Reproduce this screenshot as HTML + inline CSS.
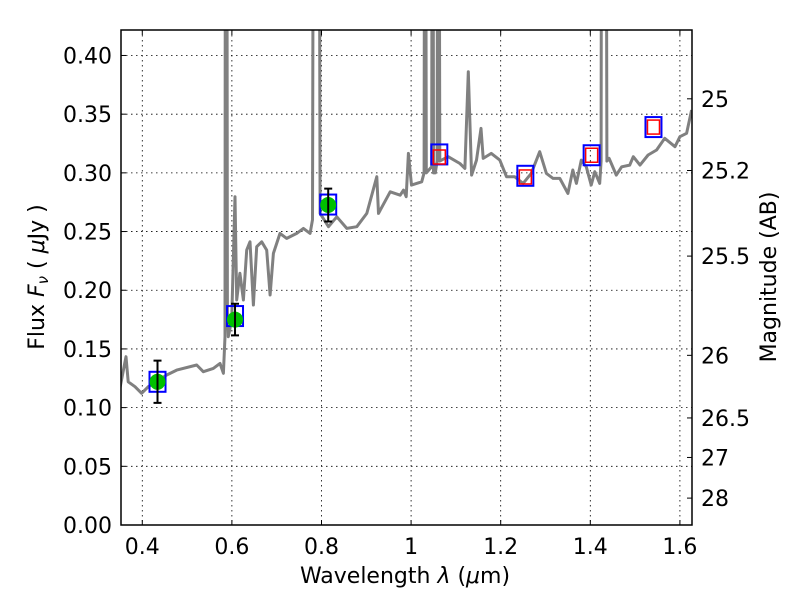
<!DOCTYPE html>
<html><head><meta charset="utf-8"><style>
body{margin:0;background:#fff}
svg{display:block;font-family:"DejaVu Sans","Liberation Sans",sans-serif}
</style></head><body>
<svg id="chart" width="800" height="600">
<rect width="800" height="600" fill="#fff"/>
<defs><clipPath id="plotclip"><rect x="121" y="30" width="571" height="495"/></clipPath></defs>
<g id="grid"></g>
<g id="series" clip-path="url(#plotclip)"></g>
<rect x="121" y="30" width="571" height="495" fill="none" stroke="#000" stroke-width="1.5"/>
<g id="axes"></g>
<text x="405" y="583" font-size="22" text-anchor="middle">Wavelength  <tspan font-style="italic">λ</tspan> (<tspan font-style="italic">μ</tspan>m)</text>
<text transform="translate(44,277) rotate(-90)" font-size="22" text-anchor="middle">Flux  <tspan font-style="italic">F</tspan><tspan font-style="italic" font-size="15" dy="4">ν</tspan><tspan dy="-4">  (  </tspan><tspan font-style="italic">μ</tspan>Jy )</text>
<text transform="translate(776,277) rotate(-90)" font-size="22" text-anchor="middle">Magnitude (AB)</text>
</svg>
<script>
const xTicks=[0.4,0.6,0.8,1.0,1.2,1.4,1.6];
const xTickLabels=["0.4","0.6","0.8","1","1.2","1.4","1.6"];
const yTicks=[0,0.05,0.1,0.15,0.2,0.25,0.3,0.35,0.4];
const yTickLabels=["0.00","0.05","0.10","0.15","0.20","0.25","0.30","0.35","0.40"];
const magTicks=[25,25.2,25.5,26,26.5,27,28];
const magTickLabels=["25","25.2","25.5","26","26.5","27","28"];
const specWave=[0.350,0.3636,0.3686,0.3837,0.3985,0.4134,0.4544,0.4768,0.5214,0.5363,0.5586,0.5735,0.581,0.5847,0.586,0.588,0.590,0.5921,0.5996,0.6069,0.6107,0.618,0.6256,0.633,0.6405,0.648,0.6554,0.6666,0.6777,0.6852,0.6926,0.7075,0.7224,0.7447,0.7596,0.7745,0.7800,0.7834,0.7880,0.7931,0.797,0.8156,0.8342,0.8565,0.8789,0.9012,0.9235,0.9272,0.9533,0.9756,0.983,0.989,0.994,1.001,1.0237,1.029,1.031,1.034,1.046,1.048,1.050,1.054,1.058,1.061,1.064,1.068,1.0829,1.109,1.12,1.1277,1.135,1.146,1.156,1.161,1.179,1.198,1.213,1.231,1.25,1.268,1.287,1.302,1.317,1.332,1.35,1.361,1.369,1.38,1.391,1.402,1.41,1.421,1.424,1.426,1.434,1.437,1.442,1.458,1.47,1.488,1.496,1.511,1.529,1.548,1.566,1.589,1.6,1.615,1.626];
const specFlux=[0.1164,0.1434,0.122,0.1178,0.1122,0.1178,0.1278,0.132,0.1363,0.1306,0.1334,0.1377,0.1292,0.1604,0.9,0.9,0.18,0.1604,0.1746,0.2797,0.1917,0.2144,0.1917,0.2342,0.2413,0.1874,0.2371,0.2413,0.2342,0.1959,0.2314,0.2484,0.2442,0.2484,0.2527,0.2484,0.26,0.9,0.9,0.9,0.2655,0.2541,0.2626,0.2527,0.2541,0.2655,0.2967,0.2655,0.2839,0.281,0.2853,0.2797,0.3166,0.2896,0.2924,0.30,0.9,0.30,0.3052,0.9,0.30,0.30,0.31,0.9,0.31,0.3109,0.3138,0.308,0.3038,0.3861,0.2981,0.3109,0.3379,0.3123,0.3166,0.3109,0.2967,0.2967,0.291,0.2995,0.318,0.2995,0.2953,0.2953,0.2825,0.3024,0.291,0.3109,0.3052,0.2896,0.301,0.291,0.31,0.9,0.9,0.31,0.3123,0.2981,0.3052,0.3066,0.3138,0.3066,0.3152,0.3195,0.3294,0.3223,0.3308,0.3337,0.3535];
const photWave=[0.434,0.607,0.815];
const photFlux=[0.122,0.175,0.2726];
const photErr=[0.018,0.0135,0.014];
const modelWave=[0.434,0.607,0.815,1.063,1.255,1.403,1.541];
const modelFlux=[0.122,0.178,0.273,0.3157,0.2975,0.315,0.339];
const nirWave=[1.063,1.255,1.403,1.541];
const nirFlux=[0.3135,0.2965,0.315,0.339];

const X0=121,X1=692,Y0=525,Y1=30,XMIN=0.3525,XMAX=1.627,YMIN=0,YMAX=0.4217;
const sx=v=>X0+(v-XMIN)/(XMAX-XMIN)*(X1-X0);
const sy=v=>Y0-(v-YMIN)/(YMAX-YMIN)*(Y0-Y1);
const NS="http://www.w3.org/2000/svg";
function mk(tag,attrs,parent){const e=document.createElementNS(NS,tag);for(const k in attrs)e.setAttribute(k,attrs[k]);parent.appendChild(e);return e;}
const grid=document.getElementById('grid'),axes=document.getElementById('axes'),series=document.getElementById('series');

xTicks.forEach((t,i)=>{const x=sx(t);
 const g=mk('line',{x1:x,x2:x,y1:Y1,y2:Y0,stroke:'#000','stroke-width':0.8,'stroke-dasharray':'1.5,3.5'},grid);
 
 
 mk('line',{x1:x,x2:x,y1:Y0,y2:Y0-5,stroke:'#000'},axes);
 mk('line',{x1:x,x2:x,y1:Y1,y2:Y1+5,stroke:'#000'},axes);
 const tx=mk('text',{x:x,y:Y0+29,'font-size':22,'text-anchor':'middle'},axes);
 tx.textContent=xTickLabels[i];
 
 
});
yTicks.forEach((t,i)=>{const y=sy(t);
 if(t>0){const g=mk('line',{x1:X0,x2:X1,y1:y,y2:y,stroke:'#000','stroke-width':0.8,'stroke-dasharray':'1.5,3.5'},grid);
 
 }
 mk('line',{x1:X0,x2:X0+5,y1:y,y2:y,stroke:'#000'},axes);
 const tx=mk('text',{x:X0-9,y:y+8,'font-size':22,'text-anchor':'end'},axes);
 tx.textContent=yTickLabels[i];
 
 
});
magTicks.forEach((m,i)=>{const y=sy(Math.pow(10,(23.9-m)/2.5));
 mk('line',{x1:X1,x2:X1-5,y1:y,y2:y,stroke:'#000'},axes);
 const tx=mk('text',{x:X1+9,y:y+8,'font-size':22},axes);
 tx.textContent=magTickLabels[i];
 
 
});

const pts=specWave.map((w,i)=>sx(w).toFixed(1)+','+sy(specFlux[i]).toFixed(1)).join(' ');
const sp=mk('polyline',{points:pts,fill:'none',stroke:'#808080','stroke-width':3,'stroke-linejoin':'round'},series);



modelWave.forEach((w,i)=>{const x=sx(w),y=sy(modelFlux[i]);
 const r=mk('rect',{x:x-8,y:y-10,width:16,height:20,fill:'none',stroke:'#0000ff','stroke-width':2},series);
 
 
});
nirWave.forEach((w,i)=>{const x=sx(w),y=sy(nirFlux[i]);
 const r=mk('rect',{x:x-6,y:y-7,width:12,height:14,fill:'none',stroke:'#ff0000','stroke-width':1.5},series);
 
 
});
photWave.forEach((w,i)=>{const x=sx(w),y=sy(photFlux[i]);
 const c=mk('circle',{cx:x,cy:y,r:8,fill:'#00c000'},series);
 
 
 const yt=sy(photFlux[i]+photErr[i]),yb=sy(photFlux[i]-photErr[i]);
 const e=mk('path',{d:`M${x},${yt}V${yb}M${x-4},${yt}H${x+4}M${x-4},${yb}H${x+4}`,stroke:'#000','stroke-width':2,fill:'none'},series);
 
 
});
</script>
</body></html>
